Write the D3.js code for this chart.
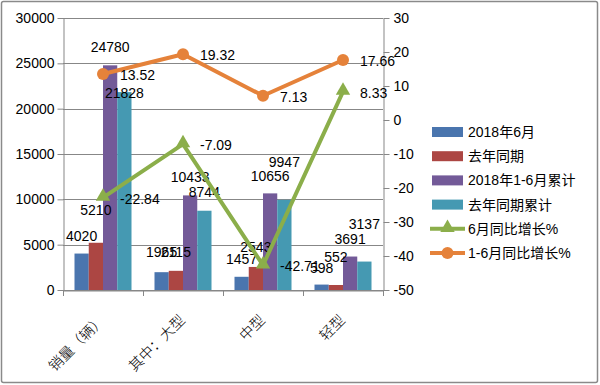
<!DOCTYPE html>
<html>
<head>
<meta charset="utf-8">
<script src="https://cdn.jsdelivr.net/npm/d3@7"></script>
<style>
  body { margin: 0; background: #fff; }
  svg text { font-family: "Liberation Sans", "Noto Sans CJK SC", sans-serif; fill: #000; }
</style>
</head>
<body>
<script>
// categories and series
let categories = ['销量（辆）', '其中：大型', '中型', '轻型'];
let barNames = ['2018年6月', '去年同期', '2018年1-6月累计', '去年同期累计'];
let june2018 = [4020, 1965, 1457, 598];
let juneLastYear = [5210, 2115, 2543, 552];
let cum2018 = [24780, 10433, 10656, 3691];
let cumLastYear = [21828, 8744, 9947, 3137];
let lineNames = ['6月同比增长%', '1-6月同比增长%'];
let juneGrowth = [-22.84, -7.09, -42.71, 8.33];
let cumGrowth = [13.52, 19.32, 7.13, 17.66];
let leftTicks = [0, 5000, 10000, 15000, 20000, 25000, 30000];
let rightTicks = [-50, -40, -30, -20, -10, 0, 10, 20, 30];

let barSeries = [june2018, juneLastYear, cum2018, cumLastYear];
let barColors = ['#4A75AE', '#AC4643', '#735A98', '#4599B2'];
let lineSeries = [juneGrowth, cumGrowth];
let lineColors = ['#8BAE4A', '#E5823A'];

// label nudges (px) where the original labels are not sitting just over the bar
let barLabelDy = [
    [-18, -20, -18, -17],
    [-33, -19, -20, -28],
    [-18, -18, -17, -18],
    [1, -19, -38, -38]
];

let width = 600, height = 385;
let plot = {left: 63, right: 383, top: 18, bottom: 290};

let svg = d3.select('body').append('svg')
    .attr('width', width)
    .attr('height', height);

// outer frame
svg.append('rect')
    .attr('x', 1.5).attr('y', 1.5)
    .attr('width', width - 4).attr('height', height - 4)
    .attr('rx', 2)
    .attr('fill', '#fff')
    .attr('stroke', '#8a8a8a')
    .attr('stroke-width', 1.5);

let x0 = d3.scaleBand()
    .domain(categories)
    .range([plot.left, plot.right])
    .paddingInner(0.2875)
    .paddingOuter(0.14375);
let x1 = d3.scaleBand()
    .domain(d3.range(barSeries.length))
    .range([0, x0.bandwidth()]);
let cx = d3.scalePoint()
    .domain(categories)
    .range([plot.left, plot.right])
    .padding(0.5);

let yLeft = d3.scaleLinear().domain([0, 30000]).range([plot.bottom, plot.top]);
let yRight = d3.scaleLinear().domain([-50, 30]).range([plot.bottom, plot.top]);

// gridlines
svg.append('g')
    .selectAll('line')
    .data(leftTicks)
    .enter()
    .append('line')
    .attr('x1', plot.left).attr('x2', plot.right)
    .attr('y1', d => Math.round(yLeft(d)) + 0.5)
    .attr('y2', d => Math.round(yLeft(d)) + 0.5)
    .attr('stroke', '#878787');

// bars
barSeries.forEach(function(series, j){
    svg.append('g')
        .selectAll('rect')
        .data(series)
        .enter()
        .append('rect')
        .attr('x', (d, i) => x0(categories[i]) + x1(j))
        .attr('y', d => yLeft(d))
        .attr('width', x1.bandwidth())
        .attr('height', d => yLeft(0) - yLeft(d))
        .attr('fill', barColors[j]);
});

// axes (plain numbers, hyphen minus like the original)
let plain = d3.format('d');
let fmt = d => plain(d).replace('−', '-');
let axisLeft = svg.append('g')
    .attr('transform', `translate(${plot.left + 0.5},0)`)
    .call(d3.axisLeft(yLeft).tickValues(leftTicks).tickFormat(fmt).tickSize(6).tickPadding(3).tickSizeOuter(0));
let axisRight = svg.append('g')
    .attr('transform', `translate(${plot.right + 0.5},0)`)
    .call(d3.axisRight(yRight).tickValues(rightTicks).tickFormat(fmt).tickSize(6).tickPadding(4).tickSizeOuter(0));
let axisBottom = svg.append('g')
    .attr('transform', `translate(0,${plot.bottom + 0.5})`)
    .call(d3.axisBottom(x0).tickValues([]).tickSizeOuter(0));

// category separators on the bottom axis
svg.append('g')
    .selectAll('line')
    .data(d3.range(categories.length + 1))
    .enter()
    .append('line')
    .attr('x1', i => plot.left + 0.5 + i * x0.step())
    .attr('x2', i => plot.left + 0.5 + i * x0.step())
    .attr('y1', plot.bottom)
    .attr('y2', plot.bottom + 6)
    .attr('stroke', '#878787');

[axisLeft, axisRight, axisBottom].forEach(function(a){
    a.selectAll('path, line').attr('stroke', '#878787');
    a.selectAll('text')
        .style('font-size', '14px')
        .style('font-family', '"Liberation Sans", sans-serif')
        .attr('fill', '#000');
});

// category labels, slanted
svg.append('g')
    .selectAll('text')
    .data(categories)
    .enter()
    .append('text')
    .attr('transform', d => `translate(${cx(d) + 3},321) rotate(-45)`)
    .attr('text-anchor', 'end')
    .style('font-size', '14.5px')
    .style('font-family', '"Noto Sans CJK SC", sans-serif')
    .style('font-weight', 300)
    .text(d => d);

// bar value labels
barSeries.forEach(function(series, j){
    svg.append('g')
        .selectAll('text')
        .data(series)
        .enter()
        .append('text')
        .attr('x', (d, i) => x0(categories[i]) + x1(j) + x1.bandwidth() / 2)
        .attr('y', (d, i) => yLeft(d) + barLabelDy[j][i])
        .attr('dy', '0.36em')
        .attr('text-anchor', 'middle')
        .style('font-size', '14px')
        .text(d => d);
});

// growth lines
let line = d3.line()
    .x((d, i) => cx(categories[i]))
    .y(d => yRight(d));

lineSeries.forEach(function(series, k){
    svg.append('path')
        .datum(series)
        .attr('d', line)
        .attr('fill', 'none')
        .attr('stroke', lineColors[k])
        .attr('stroke-width', 4)
        .attr('stroke-linejoin', 'round');
});

let triangle = d3.symbol().type(d3.symbolTriangle).size(90);

// triangles for June growth
svg.append('g')
    .selectAll('path')
    .data(juneGrowth)
    .enter()
    .append('path')
    .attr('d', triangle)
    .attr('transform', (d, i) => `translate(${cx(categories[i])},${yRight(d) - 1})`)
    .attr('fill', lineColors[0]);

// circles for cumulative growth
svg.append('g')
    .selectAll('circle')
    .data(cumGrowth)
    .enter()
    .append('circle')
    .attr('cx', (d, i) => cx(categories[i]))
    .attr('cy', d => yRight(d))
    .attr('r', 6)
    .attr('fill', lineColors[1]);

lineSeries.forEach(function(series, k){
    svg.append('g')
        .selectAll('text')
        .data(series)
        .enter()
        .append('text')
        .attr('x', (d, i) => cx(categories[i]) + 17)
        .attr('y', d => yRight(d) + 1)
        .attr('dy', '0.36em')
        .style('font-size', '14px')
        .text(d => d);
});

// legend
let legend = svg.append('g').attr('transform', 'translate(432,132)');
let rowH = 24.2;
barNames.forEach(function(name, j){
    let g = legend.append('g').attr('transform', `translate(0,${j * rowH})`);
    g.append('rect')
        .attr('x', 0).attr('y', -5)
        .attr('width', 31).attr('height', 10)
        .attr('fill', barColors[j]);
    g.append('text')
        .attr('x', 36).attr('dy', '0.36em')
        .style('font-size', '14px')
        .text(name);
});
lineNames.forEach(function(name, k){
    let g = legend.append('g').attr('transform', `translate(0,${(k + 4) * rowH})`);
    g.append('line')
        .attr('x1', -2).attr('x2', 33)
        .attr('stroke', lineColors[k])
        .attr('stroke-width', 4);
    if (k === 0) {
        g.append('path')
            .attr('d', triangle)
            .attr('transform', 'translate(15.5,-1)')
            .attr('fill', lineColors[k]);
    } else {
        g.append('circle')
            .attr('cx', 15.5).attr('r', 6)
            .attr('fill', lineColors[k]);
    }
    g.append('text')
        .attr('x', 36).attr('dy', '0.36em')
        .style('font-size', '14px')
        .text(name);
});
</script>
</body>
</html>
